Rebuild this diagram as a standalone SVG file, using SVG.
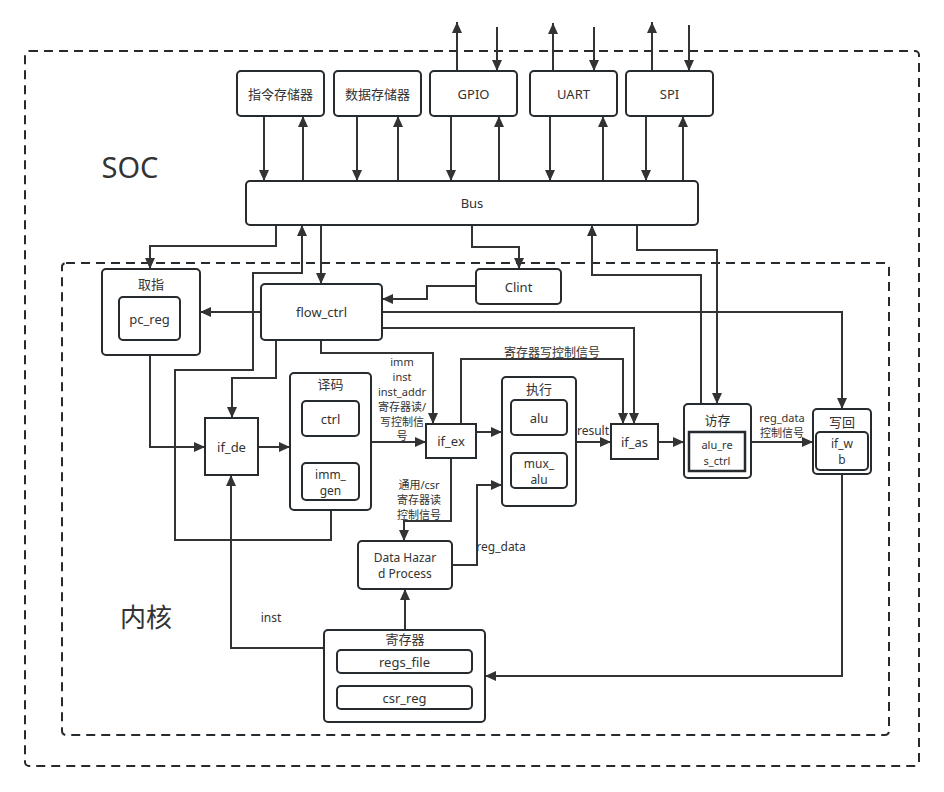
<svg xmlns="http://www.w3.org/2000/svg" width="944" height="792" viewBox="0 0 944 792">
<style>
text{font-family:"Noto Sans","Noto Sans CJK SC",sans-serif;fill:#333;dominant-baseline:central;text-anchor:middle}
.n{font-size:13px}
.m{font-size:12px}
.s{font-size:12px}
.t{font-size:11px}
.big{font-size:29px}
.box{fill:#fff;stroke:#262b30;stroke-width:2}
.dash{fill:none;stroke:#262b30;stroke-width:2;stroke-dasharray:9 6}
.c path{fill:none;stroke:#333;stroke-width:2}
.a{marker-end:url(#ar)}
</style>
<defs>
<marker id="ar" markerUnits="userSpaceOnUse" markerWidth="12" markerHeight="12" refX="11" refY="6" orient="auto">
<path d="M0,1 L11,6 L0,11 z" fill="#333"/>
</marker>
</defs>
<rect width="944" height="792" fill="#fff"/>
<g id="soc">
<rect class="dash" x="25" y="51" width="894" height="715" rx="4"/>
<text class="big" x="130" y="166">SOC</text>
</g>
<g id="core">
<rect class="dash" x="62" y="263" width="827" height="472" rx="4"/>
<text class="big" x="146" y="617" style="font-size:26px">内核</text>
</g>
<g class="c" id="connectors">
<path class="a" d="M264,116 V181"/>
<path class="a" d="M303,181 V116"/>
<path class="a" d="M357,116 V181"/>
<path class="a" d="M398,181 V116"/>
<path class="a" d="M451,116 V181"/>
<path class="a" d="M499,181 V116"/>
<path class="a" d="M550,116 V181"/>
<path class="a" d="M603,181 V116"/>
<path class="a" d="M646,116 V181"/>
<path class="a" d="M683,181 V116"/>
<path class="a" d="M457,71 V22"/>
<path class="a" d="M497,27 V71"/>
<path class="a" d="M553,71 V23"/>
<path class="a" d="M594,27 V71"/>
<path class="a" d="M652,71 V22"/>
<path class="a" d="M689,25 V71"/>
<path class="a" d="M276,225 V246 H150 V269"/>
<path class="a" d="M331,510 V540 H175 V370 H253 V273 H302 V225"/>
<path class="a" d="M321,225 V284"/>
<path class="a" d="M472,225 V247 H519 V269"/>
<path class="a" d="M476,286 H427 V299 H382"/>
<path class="a" d="M701,404 V275 H592 V225"/>
<path class="a" d="M637,225 V250 H717 V404"/>
<path class="a" d="M261,312 H200"/>
<path class="a" d="M382,312 H842 V409"/>
<path class="a" d="M382,328 H634 V424"/>
<path class="a" d="M276,340 V378 H232 V418"/>
<path class="a" d="M321,340 V353 H433 V424"/>
<path class="a" d="M150,355 V447 H205"/>
<path class="a" d="M258,447 H290"/>
<path class="a" d="M371,442 H426"/>
<path class="a" d="M476,432 H502"/>
<path class="a" d="M461,424 V359 H623 V424"/>
<path class="a" d="M576,442 H611"/>
<path class="a" d="M658,442 H684"/>
<path class="a" d="M751,442 H813"/>
<path class="a" d="M842,474 V676 H485"/>
<path class="a" d="M405,630 V589"/>
<path class="a" d="M324,648 H231 V475"/>
<path class="a" d="M451,458 V521 H404 V541"/>
<path class="a" d="M452,565 H477 V485 H502"/>
</g>
<g id="conn-labels">
<text class="s" x="552" y="352">寄存器写控制信号</text>
<text class="s" x="593" y="430">result</text>
<text class="t" x="782" y="417">reg_data<tspan x="782" dy="15">控制信号</tspan></text>
<text class="t" x="402" y="361">imm<tspan x="402" dy="15">inst</tspan><tspan x="402" dy="15">inst_addr</tspan><tspan x="402" dy="15">寄存器读/</tspan><tspan x="402" dy="15">写控制信</tspan><tspan x="402" dy="14">号</tspan></text>
<text class="t" x="419" y="484">通用/csr<tspan x="419" dy="15">寄存器读</tspan><tspan x="419" dy="15">控制信号</tspan></text>
<text class="s" x="501" y="546">reg_data</text>
<text class="s" x="271" y="617">inst</text>
</g>
<g id="imem"><rect class="box" x="237" y="71" width="87" height="45" rx="4"/><text class="n" x="280.5" y="93.5">指令存储器</text></g>
<g id="dmem"><rect class="box" x="334" y="71" width="87" height="45" rx="4"/><text class="n" x="377.5" y="93.5">数据存储器</text></g>
<g id="gpio"><rect class="box" x="430" y="71" width="87" height="45" rx="4"/><text class="n" x="473.5" y="93.5">GPIO</text></g>
<g id="uart"><rect class="box" x="530" y="71" width="87" height="45" rx="4"/><text class="n" x="573.5" y="93.5">UART</text></g>
<g id="spi"><rect class="box" x="626" y="71" width="87" height="45" rx="4"/><text class="n" x="669.5" y="93.5">SPI</text></g>
<g id="bus"><rect class="box" x="246" y="181" width="452" height="44" rx="4"/><text class="n" x="472" y="203">Bus</text></g>
<g id="fetch">
<rect class="box" x="102" y="269" width="98" height="86" rx="4"/>
<text class="n" x="151" y="284">取指</text>
<rect class="box" x="119" y="297" width="61" height="43" rx="4"/>
<text class="n" x="149.5" y="318.5">pc_reg</text>
</g>
<g id="flow_ctrl"><rect class="box" x="261" y="284" width="121" height="56" rx="4"/><text class="n" x="321.5" y="312">flow_ctrl</text></g>
<g id="clint"><rect class="box" x="476" y="269" width="85" height="35" rx="4"/><text class="n" x="518.5" y="286.5">Clint</text></g>
<g id="if_de"><rect class="box" x="205" y="418" width="53" height="57"/><text class="n" x="231.5" y="446.5">if_de</text></g>
<g id="decode">
<rect class="box" x="290" y="373" width="81" height="137" rx="4"/>
<text class="n" x="330.5" y="384">译码</text>
<rect class="box" x="302" y="401" width="57" height="35" rx="4"/>
<text class="n" x="330.5" y="418.5">ctrl</text>
<rect class="box" x="302" y="463" width="57" height="37" rx="4"/>
<text class="m" x="330.5" y="474">imm_<tspan x="330.5" dy="16">gen</tspan></text>
</g>
<g id="if_ex"><rect class="box" x="426" y="424" width="50" height="34"/><text class="n" x="451" y="441">if_ex</text></g>
<g id="exec">
<rect class="box" x="502" y="377" width="74" height="129" rx="4"/>
<text class="n" x="539" y="389">执行</text>
<rect class="box" x="511" y="400" width="56" height="35" rx="4"/>
<text class="n" x="539" y="417.5">alu</text>
<rect class="box" x="511" y="453" width="56" height="35" rx="4"/>
<text class="m" x="539" y="463">mux_<tspan x="539" dy="16">alu</tspan></text>
</g>
<g id="if_as"><rect class="box" x="611" y="424" width="47" height="35"/><text class="n" x="634.5" y="441.5">if_as</text></g>
<g id="mem">
<rect class="box" x="684" y="404" width="67" height="74" rx="4"/>
<text class="n" x="717.5" y="420">访存</text>
<rect class="box" x="689" y="432" width="56" height="39" style="stroke-width:2.5"/>
<text class="t" x="717" y="444">alu_re<tspan x="717" dy="16">s_ctrl</tspan></text>
</g>
<g id="wb">
<rect class="box" x="813" y="409" width="58" height="65" rx="4"/>
<text class="n" x="842" y="422">写回</text>
<rect class="box" x="816" y="432" width="52" height="38" rx="4"/>
<text class="m" x="842" y="443">if_w<tspan x="842" dy="16">b</tspan></text>
</g>
<g id="hazard">
<rect class="box" x="358" y="541" width="94" height="48" rx="4"/>
<text class="m" x="405" y="557">Data Hazar<tspan x="405" dy="16">d Process</tspan></text>
</g>
<g id="regs">
<rect class="box" x="324" y="630" width="161" height="92" rx="4"/>
<text class="n" x="405" y="639">寄存器</text>
<rect class="box" x="337" y="650" width="135" height="23" rx="4"/>
<text class="n" x="404.5" y="662">regs_file</text>
<rect class="box" x="337" y="686" width="135" height="23" rx="4"/>
<text class="n" x="404.5" y="698">csr_reg</text>
</g>
</svg>
